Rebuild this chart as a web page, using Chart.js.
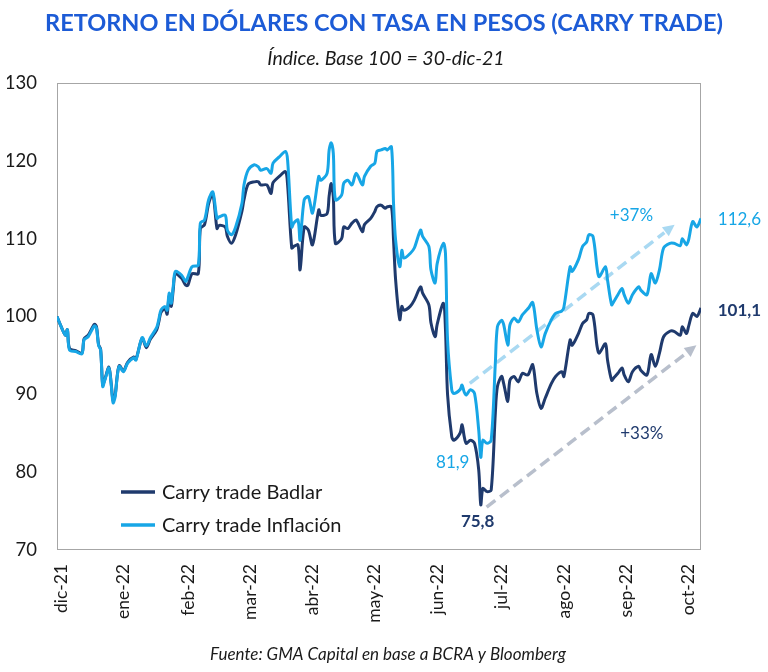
<!DOCTYPE html>
<html>
<head>
<meta charset="utf-8">
<script src="https://cdn.jsdelivr.net/npm/chart.js@4.4.1/dist/chart.umd.min.js"></script>
<style>
  body { margin: 0; background: #fff; }
  canvas { display: block; }
</style>
</head>
<body>
<canvas id="chart" width="768" height="672"></canvas>
<script>
// dias desde 30-dic-21
var days = [0, 2, 4, 5, 6, 9, 12, 13, 15, 18, 19, 20, 21, 22, 23, 25, 26, 27, 28, 29,
  30, 32, 34, 37, 38, 41, 43, 45, 48, 49, 50, 52, 53, 54, 55, 56, 57, 60, 62, 63,
  65, 68, 69, 71, 73, 75, 77, 78, 81, 82, 84, 86, 89, 90, 92, 95, 97, 98, 101, 103,
  104, 107, 110, 111, 113, 114, 116, 117, 119, 121, 123, 126, 127, 130, 131, 132, 133, 134, 137, 138,
  140, 142, 144, 147, 148, 151, 153, 154, 156, 158, 159, 161, 162, 163, 165, 166, 167, 170, 172, 175,
  176, 179, 180, 182, 183, 186, 187, 188, 190, 191, 194, 195, 196, 197, 199, 201, 203, 204, 205, 207,
  209, 211, 212, 214, 215, 217, 218, 220, 222, 224, 226, 227, 229, 231, 233, 235, 238, 240, 243, 244,
  247, 248, 251, 253, 255, 256, 258, 260, 261, 264, 265, 267, 268, 270, 272, 273, 275, 277, 280, 281,
  284, 286, 288, 290, 292, 295, 297, 300, 301, 303, 304, 306, 308, 310];

var badlar = [100.0, 98.7, 97.6, 98.3, 95.9, 95.6, 95.3, 97.1, 97.6, 99.0, 98.7, 96.4, 95.8, 91.2, 91.9, 93.5, 91.6, 89.2, 89.9, 92.4,
  93.7, 93.0, 94.1, 94.8, 94.5, 97.2, 96.0, 97.1, 98.3, 99.3, 100.5, 101.0, 100.3, 102.6, 101.3, 103.6, 105.5, 104.9, 104.0, 104.0,
  105.5, 105.5, 111.3, 111.8, 114.5, 115.8, 111.3, 111.7, 111.5, 110.3, 109.4, 110.5, 113.5, 115.0, 117.0, 117.3, 117.3, 116.9, 116.9, 115.8,
  117.2, 118.0, 118.6, 116.9, 108.8, 109.0, 109.2, 106.0, 111.5, 111.1, 109.2, 113.7, 113.0, 113.2, 115.5, 117.1, 115.4, 109.4, 110.0, 111.5,
  111.3, 112.0, 112.4, 110.9, 111.8, 112.6, 113.5, 114.1, 114.3, 113.9, 114.1, 114.1, 109.8, 104.7, 99.6, 101.3, 100.8, 101.3, 102.1, 103.8,
  103.0, 101.5, 99.2, 97.4, 99.0, 101.7, 98.3, 90.0, 84.6, 84.1, 85.0, 86.1, 84.6, 83.7, 84.1, 83.7, 80.3, 75.8, 77.9, 77.5,
  77.7, 87.6, 91.0, 92.3, 91.4, 89.1, 91.8, 92.3, 91.6, 92.7, 92.5, 92.6, 93.8, 90.1, 88.2, 89.5, 91.4, 92.3, 92.9, 92.3,
  97.0, 96.3, 97.8, 99.1, 99.6, 100.4, 100.2, 96.1, 95.3, 96.5, 94.4, 91.8, 92.1, 92.7, 93.4, 92.5, 91.6, 92.9, 93.6, 93.1,
  92.5, 95.1, 93.6, 95.3, 97.4, 98.1, 98.1, 97.6, 98.7, 97.8, 98.7, 100.4, 100.0, 101.1];

var inflacion = [100.0, 98.7, 97.6, 98.3, 95.7, 95.5, 95.2, 97.0, 97.4, 98.8, 98.5, 96.3, 95.7, 91.0, 91.8, 93.4, 91.5, 88.9, 89.7, 92.3,
  93.6, 92.9, 94.0, 94.7, 94.4, 97.3, 96.2, 97.3, 98.6, 99.6, 100.8, 101.3, 100.8, 103.0, 101.7, 104.0, 105.8, 105.3, 104.5, 105.1,
  106.4, 106.6, 112.0, 112.4, 115.0, 116.0, 112.6, 112.8, 113.0, 111.1, 110.5, 111.5, 114.5, 116.9, 118.8, 119.5, 119.2, 118.8, 119.0, 118.4,
  119.7, 120.5, 121.2, 120.1, 111.5, 112.0, 112.4, 109.8, 115.0, 115.4, 113.3, 118.0, 117.5, 118.4, 121.4, 122.3, 121.0, 115.0, 115.6, 117.1,
  117.5, 116.9, 118.4, 116.9, 118.0, 119.3, 119.7, 121.2, 121.4, 121.6, 121.4, 121.8, 114.5, 109.8, 106.4, 108.5, 107.5, 108.1, 108.8, 111.1,
  110.3, 109.0, 106.0, 104.3, 106.8, 109.4, 108.1, 97.0, 90.6, 90.1, 90.6, 91.2, 90.3, 89.9, 90.6, 90.1, 85.4, 81.9, 84.1, 83.7,
  84.1, 94.0, 98.7, 99.5, 99.0, 96.3, 98.9, 99.8, 99.3, 100.2, 100.8, 101.1, 101.8, 98.3, 96.1, 97.8, 99.6, 100.4, 100.7, 101.2,
  106.4, 105.8, 107.3, 109.0, 109.6, 110.5, 110.3, 106.2, 105.1, 106.4, 104.7, 101.5, 101.9, 102.8, 103.6, 102.8, 101.7, 102.8, 103.8, 103.4,
  102.8, 105.5, 104.3, 106.0, 108.8, 109.4, 109.4, 109.1, 110.0, 109.2, 109.8, 112.2, 111.5, 112.6];

var tickDays = [2, 32, 63, 93, 123, 153, 183, 214, 244, 274, 304];
var tickLabels = ['dic-21', 'ene-22', 'feb-22', 'mar-22', 'abr-22', 'may-22', 'jun-22', 'jul-22', 'ago-22', 'sep-22', 'oct-22'];

var seriesNames = ['Carry trade Badlar', 'Carry trade Inflación'];

var NAVY = '#1f3a6d';
var CYAN = '#17a6e6';

function toPoints(vals) {
  var pts = [];
  for (let i = 0; i < vals.length; i++) {
    pts.push({ x: days[i], y: vals[i] });
  }
  return pts;
}

// flechas y etiquetas (en coordenadas de datos)
var arrows = [
  { from: [198.7, 91.4], to: [297.3, 111.8], color: '#a9d9f2' },
  { from: [206.8, 75.5], to: [307.8, 96.3], color: '#b8bfcc' }
];
var notes = [
  { text: '+37%', x: 276.5, y: 113.0, color: CYAN, bold: false },
  { text: '+33%', x: 281.5, y: 85.0, color: NAVY, bold: false },
  { text: '81,9', x: 190.5, y: 81.2, color: CYAN, bold: false },
  { text: '75,8', x: 202.5, y: 73.7, color: NAVY, bold: true },
  { text: '112,6', x: 328.5, y: 112.4, color: CYAN, bold: false },
  { text: '101,1', x: 328.5, y: 100.8, color: NAVY, bold: true }
];

var extras = {
  id: 'extras',
  beforeDraw: function (chart) {
    var ctx = chart.ctx;
    ctx.save();
    ctx.fillStyle = '#fff';
    ctx.fillRect(0, 0, chart.width, chart.height);
    ctx.restore();
  },
  beforeDatasetsDraw: function (chart) {
    var ctx = chart.ctx, xs = chart.scales.x, ys = chart.scales.y;
    var a = chart.chartArea;
    ctx.save();
    ctx.strokeStyle = '#a6a6a6';
    ctx.lineWidth = 1;
    ctx.strokeRect(a.left + 0.5, a.top + 0.5, a.right - a.left - 1, a.bottom - a.top - 1);

    arrows.forEach(function (ar) {
      var x1 = xs.getPixelForValue(ar.from[0]), y1 = ys.getPixelForValue(ar.from[1]);
      var x2 = xs.getPixelForValue(ar.to[0]), y2 = ys.getPixelForValue(ar.to[1]);
      var ang = Math.atan2(y2 - y1, x2 - x1);
      var head = 13;
      ctx.strokeStyle = ar.color;
      ctx.fillStyle = ar.color;
      ctx.lineWidth = 3.5;
      ctx.setLineDash([11, 6]);
      ctx.beginPath();
      ctx.moveTo(x1, y1);
      ctx.lineTo(x2 - Math.cos(ang) * head, y2 - Math.sin(ang) * head);
      ctx.stroke();
      ctx.setLineDash([]);
      ctx.beginPath();
      ctx.moveTo(x2, y2);
      ctx.lineTo(x2 - Math.cos(ang - 0.45) * head, y2 - Math.sin(ang - 0.45) * head);
      ctx.lineTo(x2 - Math.cos(ang + 0.45) * head, y2 - Math.sin(ang + 0.45) * head);
      ctx.closePath();
      ctx.fill();
    });
    ctx.restore();
  },
  afterDraw: function (chart) {
    var ctx = chart.ctx, xs = chart.scales.x, ys = chart.scales.y;
    ctx.save();
    ctx.textAlign = 'center';
    ctx.textBaseline = 'middle';

    ctx.fillStyle = '#1c5bd6';
    ctx.font = 'bold 23.5px Lato';
    ctx.fillText('RETORNO EN DÓLARES CON TASA EN PESOS (CARRY TRADE)', 384, 23);

    ctx.fillStyle = '#1a1a1a';
    ctx.font = 'italic 19.5px Lato';
    ctx.fillText('Índice. Base 100 = 30-dic-21', 386, 59);

    ctx.font = 'italic 17px Lato';
    ctx.fillText('Fuente: GMA Capital en base a BCRA y Bloomberg', 388, 655);

    notes.forEach(function (n) {
      ctx.fillStyle = n.color;
      ctx.font = (n.bold ? 'bold ' : '') + '17px Lato';
      ctx.fillText(n.text, xs.getPixelForValue(n.x), ys.getPixelForValue(n.y));
    });

    // leyenda
    var colors = [NAVY, CYAN];
    ctx.textAlign = 'left';
    ctx.font = '20px Lato';
    for (let i = 0; i < seriesNames.length; i++) {
      var ly = 492 + i * 33;
      ctx.strokeStyle = colors[i];
      ctx.lineWidth = 3.5;
      ctx.beginPath();
      ctx.moveTo(121, ly);
      ctx.lineTo(155, ly);
      ctx.stroke();
      ctx.fillStyle = '#1a1a1a';
      ctx.fillText(seriesNames[i], 162, ly + 1);
    }
    ctx.restore();
  }
};

var ctx = document.getElementById('chart').getContext('2d');
var myChart = new Chart(ctx, {
  type: 'line',
  data: {
    datasets: [
      {
        label: seriesNames[0],
        data: toPoints(badlar),
        borderColor: NAVY,
        borderWidth: 3,
        pointRadius: 0,
        tension: 0.3,
        fill: false,
        order: 1
      },
      {
        label: seriesNames[1],
        data: toPoints(inflacion),
        borderColor: CYAN,
        borderWidth: 3,
        pointRadius: 0,
        tension: 0.3,
        fill: false,
        order: 0
      }
    ]
  },
  options: {
    responsive: false,
    animation: false,
    layout: { padding: { left: 7, right: 67, top: 83, bottom: 42 } },
    plugins: {
      legend: { display: false },
      tooltip: { enabled: false },
      title: { display: false }
    },
    scales: {
      x: {
        type: 'linear',
        min: 0,
        max: 310,
        grid: { display: false },
        border: { display: false },
        afterBuildTicks: function (scale) {
          scale.ticks = tickDays.map(function (d) { return { value: d }; });
        },
        afterFit: function (scale) { scale.height = 80; },
        ticks: {
          autoSkip: false,
          minRotation: 90,
          maxRotation: 90,
          padding: 6,
          color: '#1a1a1a',
          font: { family: 'Lato', size: 17.5 },
          callback: function (value, index) { return tickLabels[index]; }
        }
      },
      y: {
        min: 70,
        max: 130,
        grid: { display: false },
        border: { display: false },
        afterFit: function (scale) { scale.width = 50; },
        ticks: {
          stepSize: 10,
          padding: 12,
          color: '#1a1a1a',
          font: { family: 'Lato', size: 18.5 }
        }
      }
    }
  },
  plugins: [extras]
});
</script>
</body>
</html>
